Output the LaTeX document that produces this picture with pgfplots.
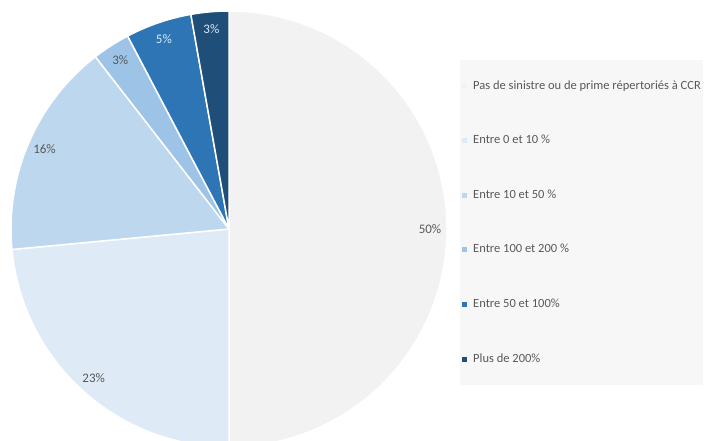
\documentclass[border=0pt]{standalone}
\usepackage{fontspec}
\setmainfont{Carlito}
\usepackage{pgfplots}
\usepackage{pgfplotstable}
\pgfplotsset{compat=1.18}

\definecolor{sl0}{HTML}{F2F2F2}
\definecolor{sl1}{HTML}{DEEBF7}
\definecolor{sl2}{HTML}{BDD7EE}
\definecolor{sl3}{HTML}{9DC3E6}
\definecolor{sl4}{HTML}{2E75B6}
\definecolor{sl5}{HTML}{1F4E79}
\definecolor{txtgray}{HTML}{595959}
\definecolor{txtlight}{HTML}{DDEBF7}
\definecolor{legbg}{HTML}{F7F7F7}

% slices clockwise from 12 o'clock
\pgfplotstableread[col sep=comma]{
name,value,label,tcol
Pas de sinistre ou de prime répertoriés à CCR,50.0,50,txtgray
Entre 0 et 10 \%,23.5,23,txtgray
Entre 10 et 50 \%,16.0,16,txtgray
Entre 100 et 200 \%,2.8,3,txtgray
Entre 50 et 100\%,4.9,5,txtlight
Plus de 200\%,2.8,3,txtlight
}\piedata

% start / end / mid angles of each slice
\gdef\piecum{0}
\foreach \i in {0,...,5}{%
  \pgfplotstablegetelem{\i}{value}\of\piedata
  \let\v\pgfplotsretval
  \pgfmathsetmacro\sa{90-3.6*\piecum}%
  \pgfmathsetmacro\nc{\piecum+\v}%
  \pgfmathsetmacro\ea{90-3.6*\nc}%
  \pgfmathsetmacro\ma{(\sa+\ea)/2}%
  \expandafter\xdef\csname pieS\i\endcsname{\sa}%
  \expandafter\xdef\csname pieE\i\endcsname{\ea}%
  \expandafter\xdef\csname pieM\i\endcsname{\ma}%
  \pgfplotstablegetelem{\i}{label}\of\piedata
  \expandafter\xdef\csname pieL\i\endcsname{\pgfplotsretval}%
  \pgfplotstablegetelem{\i}{tcol}\of\piedata
  \expandafter\xdef\csname pieT\i\endcsname{\pgfplotsretval}%
  \xdef\piecum{\nc}%
}

\begin{document}
\begin{tikzpicture}
\useasboundingbox (0,0) rectangle (705pt,441pt);
\clip (0,0) rectangle (705pt,441pt);
\begin{axis}[
  at={(0,0)}, anchor=south west,
  scale only axis, width=705pt, height=441pt,
  xmin=0, xmax=705, ymin=0, ymax=441,
  hide axis,
  legend cell align=left,
  legend style={
    at={(axis cs:460,381)}, anchor=north west,
    fill=legbg, draw=none,
    font=\fontsize{12.5}{14}\selectfont, text=txtgray,
    inner xsep=2pt, inner ysep=20pt,
    row sep=42.6pt,
    nodes={inner sep=0pt, anchor=west, text height=9pt, text depth=3pt},
  },
]
\pgfplotsinvokeforeach{0,...,5}{
  \fill[sl#1, draw=white, line width=1.5pt, line join=round]
    (axis cs:229,212) -- ++(\csname pieS#1\endcsname:218pt)
    arc[start angle=\csname pieS#1\endcsname, end angle=\csname pieE#1\endcsname, radius=218pt] -- cycle;
}
\pgfplotsinvokeforeach{0,...,5}{
  \path (axis cs:229,212) ++(\csname pieM#1\endcsname:201pt)
    node[font=\fontsize{13}{15}\selectfont, text=\csname pieT#1\endcsname] {\csname pieL#1\endcsname\%};
}
\pgfplotsinvokeforeach{0,...,5}{
  \addlegendimage{legend image code/.code={
    \fill[sl#1, draw=none] (0pt,-2.5pt) rectangle (5pt,2.5pt);
    \path[draw=none, fill=none] (0pt,0pt) -- (11pt,0pt);}}
  \pgfplotstablegetelem{#1}{name}\of\piedata
  \addlegendentryexpanded{\pgfplotsretval}
}
\end{axis}
\end{tikzpicture}
\end{document}
